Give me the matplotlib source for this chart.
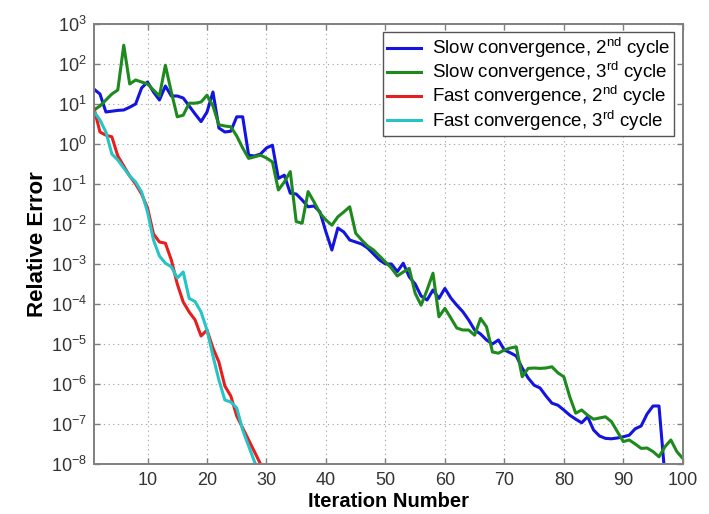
import numpy as np
import matplotlib
matplotlib.use("Agg")
import matplotlib.pyplot as plt
from matplotlib.ticker import FixedLocator, LogFormatterMathtext

plt.rcParams['font.family'] = ['Liberation Sans', 'DejaVu Sans']
plt.rcParams['mathtext.fontset'] = 'custom'
plt.rcParams['mathtext.rm'] = 'Liberation Sans'
plt.rcParams['mathtext.it'] = 'Liberation Sans:italic'
plt.rcParams['mathtext.bf'] = 'Liberation Sans:bold'

# log10 of the relative error at each iteration
slow_2nd = [1.37, 1.25, 0.80, 0.82, 0.84, 0.85, 0.92, 1.00, 1.40, 1.55,
            1.30, 1.10, 1.45, 1.20, 1.20, 1.15, 0.95, 0.75, 0.56, 0.80,
            1.30, 0.40, 0.30, 0.32, 0.68, 0.68, -0.28, -0.30, -0.25, -0.10,
            -0.03, -0.86, -0.78, -1.23, -1.25, -1.40, -1.57, -1.55, -1.70, -2.20,
            -2.65, -2.10, -2.20, -2.40, -2.45, -2.50, -2.60, -2.75, -2.90, -3.00,
            -3.00, -3.19, -2.98, -3.32, -3.50, -3.80, -3.90, -3.65, -3.86, -3.61,
            -3.85, -4.03, -4.19, -4.40, -4.65, -4.75, -4.90, -5.00, -4.90, -5.15,
            -5.22, -5.30, -5.60, -5.85, -6.03, -6.10, -6.30, -6.48, -6.53, -6.65,
            -6.78, -6.88, -6.97, -6.82, -7.15, -7.30, -7.36, -7.37, -7.35, -7.32,
            -7.28, -7.12, -7.05, -6.75, -6.55, -6.55, -8.30]

slow_3rd = [0.85, 0.95, 1.10, 1.25, 1.35, 2.47, 1.50, 1.60, 1.55, 1.50,
            1.35, 1.20, 1.97, 1.30, 0.68, 0.72, 1.02, 1.02, 1.05, 1.22,
            0.95, 0.48, 0.45, 0.43, 0.20, -0.10, -0.36, -0.32, -0.28, -0.35,
            -0.45, -1.15, -0.95, -0.69, -1.94, -1.98, -1.19, -1.45, -1.73, -1.90,
            -2.03, -1.82, -1.70, -1.57, -2.23, -2.40, -2.55, -2.65, -2.80, -2.95,
            -3.10, -3.30, -3.20, -3.11, -3.73, -4.03, -3.65, -3.23, -4.32, -4.11,
            -4.35, -4.60, -4.65, -4.65, -4.78, -4.36, -4.57, -5.20, -5.23, -5.15,
            -5.10, -5.07, -5.82, -5.61, -5.60, -5.61, -5.60, -5.57, -5.72, -5.82,
            -6.32, -6.73, -6.65, -6.78, -6.88, -6.85, -6.82, -6.94, -7.19, -7.44,
            -7.40, -7.50, -7.61, -7.60, -7.69, -7.82, -7.57, -7.40, -7.69, -7.86]

fast_2nd = [0.89, 0.30, 0.22, 0.18, -0.30, -0.55, -0.80, -1.00, -1.25, -1.60,
            -2.25, -2.45, -2.48, -2.90, -3.50, -3.95, -4.20, -4.40, -4.80, -4.65,
            -5.10, -5.45, -6.05, -6.30, -6.80, -7.10, -7.40, -7.70, -8.00, -8.30]

fast_3rd = [0.81, 0.60, 0.30, -0.25, -0.40, -0.60, -0.80, -0.95, -1.20, -1.70,
            -2.40, -2.80, -2.98, -3.07, -3.35, -3.20, -3.86, -3.94, -4.20, -4.65,
            -5.30, -5.90, -6.40, -6.45, -6.60, -7.15, -7.55, -7.95, -8.30]

x_ticks = list(range(10, 101, 10))
y_decades = list(range(-8, 4))

series = [
    (slow_2nd, 'Slow convergence, 2$^{\\rm nd}$ cycle', '#1414e0'),
    (slow_3rd, 'Slow convergence, 3$^{\\rm rd}$ cycle', '#1e8a1e'),
    (fast_2nd, 'Fast convergence, 2$^{\\rm nd}$ cycle', '#e61e1e'),
    (fast_3rd, 'Fast convergence, 3$^{\\rm rd}$ cycle', '#26c4c4'),
]

fig = plt.figure(figsize=(7.09, 5.14), dpi=100)
ax = fig.add_axes([0.1326, 0.0973, 0.8304, 0.856])

for vals, label, color in series:
    it = np.arange(1, len(vals) + 1)
    ax.semilogy(it, 10.0 ** np.array(vals), color=color, lw=2.2, label=label)

ax.set_xlim(1, 100)
ax.set_ylim(1e-8, 1e3)
ax.xaxis.set_major_locator(FixedLocator(x_ticks))
ax.yaxis.set_major_locator(FixedLocator([10.0 ** d for d in y_decades]))
ax.yaxis.set_major_formatter(LogFormatterMathtext())
ax.yaxis.set_minor_locator(FixedLocator([]))

ax.grid(True, which='major', linestyle=(0, (1.2, 3)), color='#aaaaaa', lw=0.8)
for side in ax.spines.values():
    side.set_color('#808080')
    side.set_linewidth(1.4)
ax.tick_params(direction='in', length=4, width=1, colors='#808080',
               labelcolor='#333333', labelsize=13, top=True, right=True)
ax.tick_params(axis='x', pad=6)
ax.tick_params(axis='y', pad=5)

ax.set_xlabel('Iteration Number', fontsize=14.5, fontweight='bold', labelpad=2)
ax.set_ylabel('Relative Error', fontsize=16, fontweight='bold', labelpad=2)

leg = ax.legend(loc='upper right', fontsize=13.5, fancybox=False, framealpha=1,
                edgecolor='#555555', handlelength=1.8, handletextpad=0.6,
                borderpad=0.2, labelspacing=0.0, borderaxespad=0.45)
leg.get_frame().set_linewidth(1.0)

fig.savefig('out.png', dpi=100)
